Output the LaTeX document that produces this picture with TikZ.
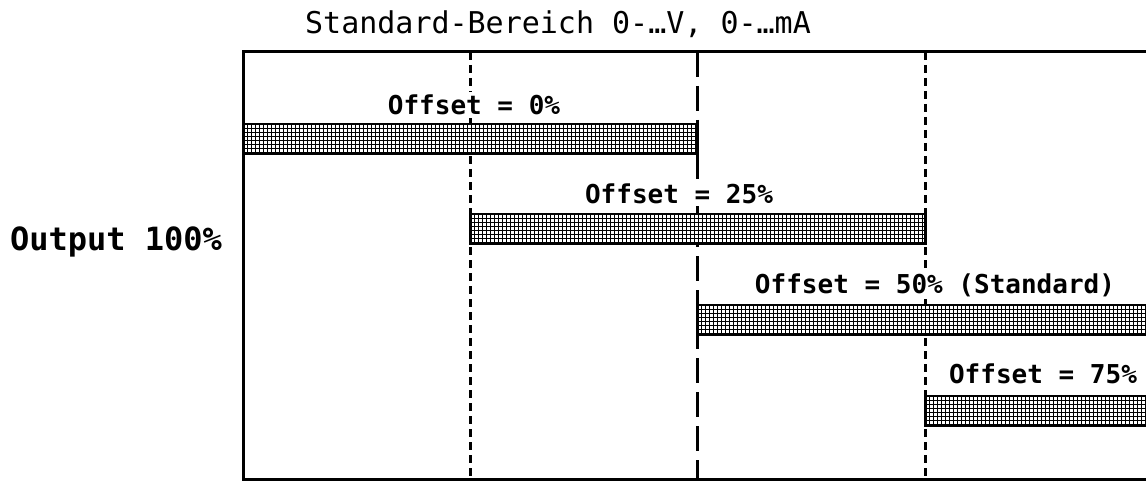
\documentclass[tikz,border=0pt]{standalone}
\usepackage{fontspec}
\newfontfamily\monofont{DejaVu Sans Mono}
\begin{document}
\begin{tikzpicture}[x=1pt,y=-1pt,
  frame/.style={line width=3pt},
  shortdash/.style={line width=3pt, dash pattern=on 8pt off 5pt},
  longdash/.style={line width=3pt, dash pattern=on 25pt off 9pt},
  hatch/.style={line width=0.8pt},
  barline/.style={line width=2pt},
  barend/.style={line width=3pt},
  lbl/.style={font=\monofont\bfseries\fontsize{26}{30}\selectfont, inner xsep=2pt, inner ysep=3pt, fill=white, anchor=base},
  title/.style={font=\monofont\fontsize{30}{34}\selectfont, inner sep=0pt, anchor=base},
  side/.style={font=\monofont\bfseries\fontsize{32}{36}\selectfont, inner sep=0pt, anchor=base}]
\useasboundingbox (0,0) rectangle (1146,484);

% range boundaries
\coordinate (tl) at (243,52);
\coordinate (bl) at (243,479);
\coordinate (tr) at (1146,52);
\coordinate (br) at (1146,479);
\coordinate (q1t) at (470,52);  \coordinate (q1b) at (470,479);
\coordinate (q2t) at (697,52);  \coordinate (q2b) at (697,479);
\coordinate (q3t) at (925,52);  \coordinate (q3b) at (925,479);

% frame
\draw[frame] (tr) -- (tl) -- (bl) -- (br);

% quarter markers
\draw[shortdash] (q1t) -- (q1b);
\draw[longdash]  (q2t) -- (q2b);
\draw[shortdash] (q3t) -- (q3b);

% cross-hatched output bars
\newcommand\hatchbar[4]{%
  \fill[white] (#1,#2) rectangle (#3,#4);
  \begin{scope}
    \clip (#1,#2) rectangle (#3,#4);
    \foreach \gx in {0,4,...,460} \draw[hatch] (#1+\gx,#2) -- (#1+\gx,#4);
    \foreach \gy in {4,8,...,28} \draw[hatch] (#1,#2+\gy) -- (#3,#2+\gy);
  \end{scope}
  \draw[barline] (#1,#2) -- (#3,#2) (#1,#4) -- (#3,#4);
  \draw[barend] (#1,#2-1) -- (#1,#4+1) (#3,#2-1) -- (#3,#4+1);
}
\hatchbar{243}{124}{697}{154}
\hatchbar{470}{214}{925}{244}
\hatchbar{697}{305}{1150}{335}
\hatchbar{925}{396}{1150}{426}

% labels
\node[title] (ttl) at (558,34) {Standard-Bereich 0-…V, 0-…mA};
\node[lbl] (o0) at (474,115) {Offset = 0\%};
\node[lbl] (o25) at (679,203) {Offset = 25\%};
\node[lbl] (o50) at (935,293) {Offset = 50\% (Standard)};
\node[lbl] (o75) at (1043,383) {Offset = 75\%};
\node[side] (out) at (116,250) {Output 100\%};
\end{tikzpicture}
\end{document}
